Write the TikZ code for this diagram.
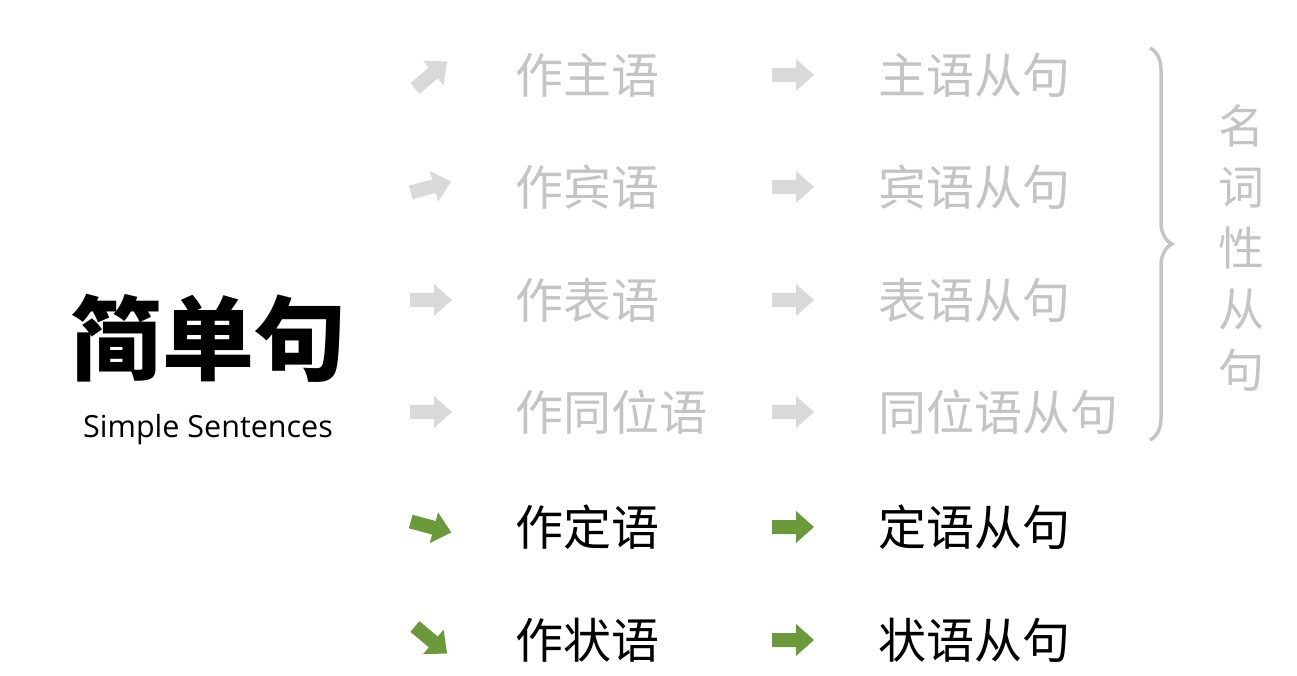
\documentclass[tikz,border=0pt]{standalone}
\usepackage{fontspec}
\newfontfamily\cjk{Noto Sans CJK SC}
\setmainfont{Open Sans}
\usetikzlibrary{decorations.pathreplacing}
\definecolor{lg}{HTML}{C4C4C4}
\definecolor{la}{HTML}{D9D9D9}
\definecolor{gr}{HTML}{6A9A3A}
\tikzset{
  txt/.style={anchor=west,inner sep=0pt,font=\cjk\fontsize{48}{48}\selectfont},
  blk/.pic={\fill[pic actions] (-21,-7) -- (3,-7) -- (3,-16) -- (21,0) -- (3,16) -- (3,7) -- (-21,7) -- cycle;}
}
\begin{document}
\begin{tikzpicture}[x=1pt,y=1pt]
\useasboundingbox (0,0) rectangle (1297,675);
\node[inner sep=0pt] (t) at (208,337) {\cjk\bfseries\fontsize{92}{92}\selectfont 简单句};
\node[inner sep=0pt] (s) at (208,245) {\fontsize{30.5}{30.5}\selectfont Simple Sentences};
\foreach \y/\a/\b/\r/\c/\tc [count=\i] in {
  75/作主语/主语从句/40/la/lg,
  187/作宾语/宾语从句/15/la/lg,
  300/作表语/表语从句/0/la/lg,
  412/作同位语/同位语从句/0/la/lg,
  527/作定语/定语从句/-15/gr/black,
  640/作状语/状语从句/-40/gr/black}{
  \pic[fill=\c,rotate=\r] at (431,675-\y) {blk};
  \node[txt,text=\tc] (a\i) at (515,675-\y) {\a};
  \pic[fill=\c] at (793,675-\y) {blk};
  \node[txt,text=\tc] (b\i) at (878,675-\y) {\b};
}
\coordinate (bt) at (1150,675-48);
\coordinate (bb) at (1150,675-440);
\draw[lg,line width=3.5pt,decorate,decoration={brace,amplitude=22pt}] (bt) -- (bb);
\node[inner sep=0pt,text=lg,align=center,font=\cjk\fontsize{46}{61}\selectfont] (v) at (1241,675-248) {名\\词\\性\\从\\句};
\end{tikzpicture}
\end{document}
